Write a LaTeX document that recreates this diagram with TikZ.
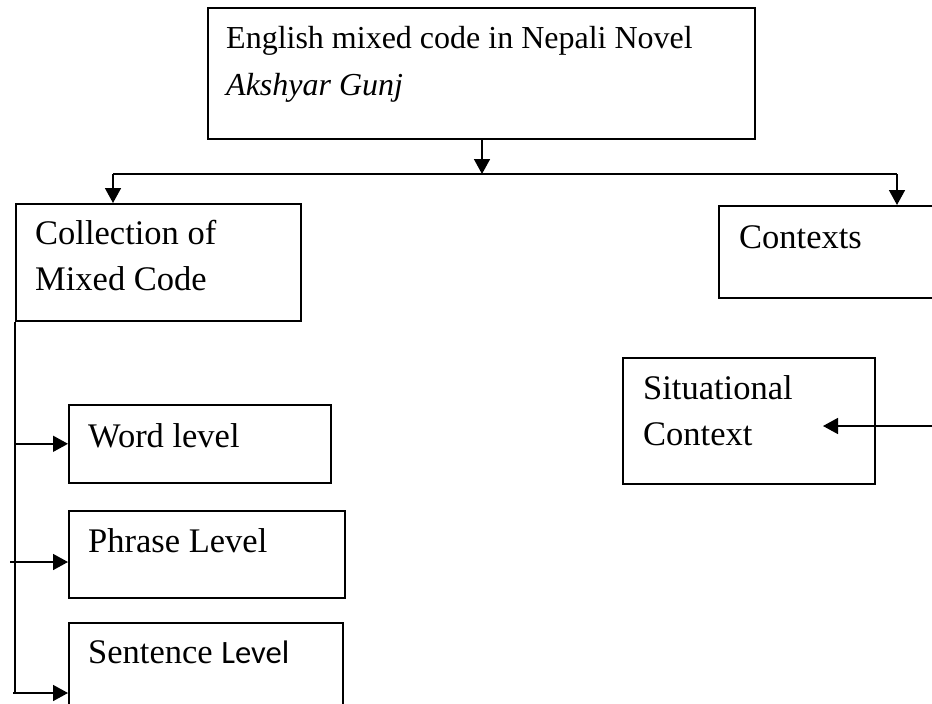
\documentclass[tikz,border=0pt]{standalone}
\usepackage{fontspec}
\setmainfont{Liberation Serif}
\setsansfont{Carlito}
\usetikzlibrary{arrows.meta, calc}

\begin{document}
\begin{tikzpicture}[
  x=1pt, y=-1pt,
  box/.style={rectangle, draw, line width=1.6pt, inner sep=0pt, anchor=north west},
  boxtext/.style={anchor=base west, align=left, inner sep=0pt,
                  font=\fontsize{34.5}{46}\selectfont},
  arrow/.style={-{Triangle[length=15pt, width=16pt]}, line width=1.6pt},
  link/.style={line width=1.6pt}
]
\useasboundingbox (0,0) rectangle (932,704);
\fill[white] (0,0) rectangle (932,704);

% Top: title box (text placed by its last baseline)
\node[box, minimum width=547pt, minimum height=131pt] (title) at (207,7) {};
\node[boxtext, font=\fontsize{32}{47}\selectfont] (titleT) at (226,95)
  {English mixed code in Nepali Novel\\\textit{Akshyar Gunj}};

% Row 2: collection (left) and contexts (right)
\node[box, minimum width=285pt, minimum height=117pt] (coll) at (15,203) {};
\node[boxtext] (collT) at (35,290) {Collection of\\Mixed Code};
\node[box, minimum width=230pt, minimum height=92pt] (ctx) at (718,205) {};
\node[boxtext] (ctxT) at (739,248) {Contexts};

% Right: situational context
\node[box, minimum width=252pt, minimum height=126pt] (sit) at (622,357) {};
\node[boxtext] (sitT) at (643,445) {Situational\\Context};

% Left column: levels
\node[box, minimum width=262pt, minimum height=78pt] (word) at (68,404) {};
\node[boxtext] (wordT) at (88,447) {Word level};
\node[box, minimum width=276pt, minimum height=87pt] (phrase) at (68,510) {};
\node[boxtext] (phraseT) at (88,552) {Phrase Level};
\node[box, minimum width=274pt, minimum height=100pt] (sent) at (68,622) {};
\node[boxtext] (sentT) at (88,663)
  {Sentence {\sffamily\fontsize{32.6}{46}\selectfont Level}};

% --- Arrows ---
\coordinate (split)  at (482,174);
\coordinate (splitL) at (113,174);
\coordinate (splitR) at (897,174);

% Title -> split line
\draw[arrow] (title.south -| split) -- (split);
\draw[link] (splitL) -- (splitR);

% Split line down to both branches
\draw[arrow] (splitL) -- (splitL |- coll.north);
\draw[arrow] (splitR) -- (splitR |- ctx.north);

% Trunk under collection box
\coordinate (trunkEnd) at (15,693);
\draw[link] (coll.south west) -- (trunkEnd);

% Trunk -> levels
\draw[arrow] (word.west -| coll.west) -- (word.west);
\coordinate (phraseIn) at (10,562);
\draw[arrow] (phraseIn) -- (phraseIn -| phrase.west);
\coordinate (sentIn) at (13,693);
\draw[arrow] (sentIn) -- (sentIn -| sent.west);

% Incoming arrow into situational context
\coordinate (sitIn)  at (932,426);
\coordinate (sitTip) at (823,426);
\draw[arrow] (sitIn) -- (sitTip);

\end{tikzpicture}
\end{document}
